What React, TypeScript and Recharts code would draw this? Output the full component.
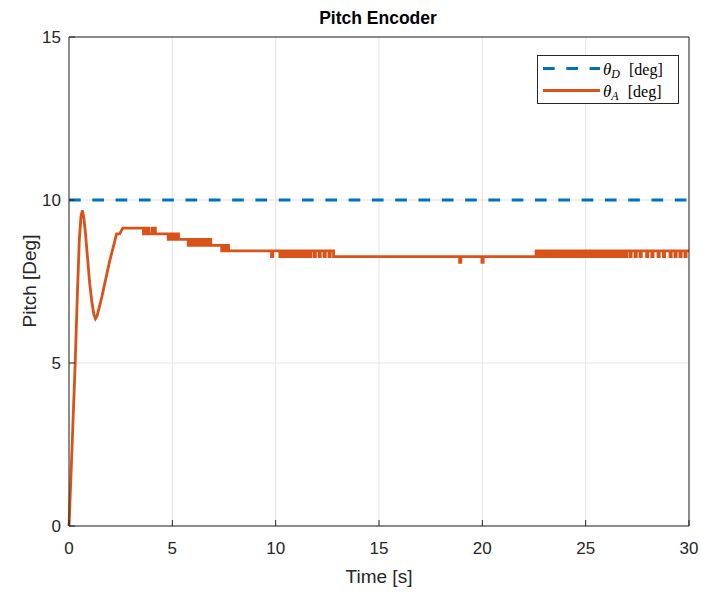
import React from "react"
import { LineChart, Line, XAxis, YAxis, CartesianGrid, Legend, Customized } from "recharts"

const timeTicks = [0, 5, 10, 15, 20, 25, 30]
const pitchTicks = [0, 5, 10, 15]
const desiredPitch = 10
const timeEnd = 30

// rise, overshoot and undershoot before the encoder reading settles
const riseTime = [0, 0.1, 0.2, 0.3, 0.4, 0.5, 0.58, 0.65, 0.72, 0.8, 0.9, 1.0, 1.1, 1.2, 1.28, 1.36, 1.46, 1.58, 1.7, 1.82, 1.95, 2.08, 2.2, 2.3, 2.45, 2.6]
const risePitch = [0, 1.6, 3.3, 5.0, 7.0, 8.8, 9.5, 9.68, 9.45, 8.95, 8.2, 7.45, 6.9, 6.5, 6.36, 6.45, 6.7, 7.0, 7.35, 7.7, 8.08, 8.4, 8.7, 8.96, 8.96, 9.14]

// [time, pitch] where the encoder count changes
const stepsEarly: [number, number][] = [
  [3.6, 8.96], [3.7, 9.14], [3.76, 8.96], [3.8, 9.14], [3.86, 8.96], [4.02, 9.14], [4.06, 8.96], [4.14, 9.14], [4.18, 8.96],
  [4.8, 8.79], [4.86, 8.96], [4.94, 8.79], [4.98, 8.96], [5.06, 8.79], [5.1, 8.96], [5.18, 8.79], [5.22, 8.96], [5.3, 8.79],
  [5.77, 8.61], [5.82, 8.79], [5.92, 8.61], [5.96, 8.79], [6.06, 8.61], [6.1, 8.79], [6.2, 8.61], [6.24, 8.79],
  [6.34, 8.61], [6.38, 8.79], [6.48, 8.61], [6.52, 8.79], [6.6, 8.61], [6.64, 8.79], [6.74, 8.61], [6.78, 8.79], [6.86, 8.61],
  [7.39, 8.44], [7.46, 8.61], [7.54, 8.44], [7.6, 8.61], [7.72, 8.44],
]

const stepsMid: [number, number][] = [
  [9.8, 8.26], [9.86, 8.44], [10.2, 8.26], [10.26, 8.44], [10.36, 8.26], [10.42, 8.44],
  [10.52, 8.26], [10.6, 8.44], [10.66, 8.26], [10.74, 8.44], [10.8, 8.26], [10.88, 8.44],
  [10.94, 8.26], [11.02, 8.44], [11.08, 8.26], [11.16, 8.44], [11.22, 8.26], [11.3, 8.44],
  [11.36, 8.26], [11.44, 8.44], [11.5, 8.26], [11.56, 8.44], [11.64, 8.26], [11.7, 8.44],
  [11.86, 8.26], [11.92, 8.44], [12.1, 8.26], [12.16, 8.44], [12.34, 8.26], [12.4, 8.44],
  [12.58, 8.26], [12.64, 8.44], [12.8, 8.26],
]

const stepsDips: [number, number][] = [
  [18.9, 8.09], [18.96, 8.26], [19.98, 8.09], [20.04, 8.26],
]

const stepsLate: [number, number][] = [
  [22.6, 8.44],
  [22.72, 8.26], [22.8, 8.44], [22.86, 8.26], [22.95, 8.44], [23.0, 8.26], [23.1, 8.44],
  [23.16, 8.26], [23.25, 8.44], [23.3, 8.26], [23.4, 8.44], [23.46, 8.26], [23.55, 8.44],
  [23.6, 8.26], [23.7, 8.44], [23.76, 8.26], [23.85, 8.44], [23.9, 8.26], [24.0, 8.44],
  [24.06, 8.26], [24.15, 8.44], [24.2, 8.26], [24.3, 8.44], [24.36, 8.26], [24.45, 8.44],
  [24.5, 8.26], [24.6, 8.44], [24.66, 8.26], [24.75, 8.44], [24.8, 8.26], [24.9, 8.44],
  [24.96, 8.26], [25.05, 8.44], [25.1, 8.26], [25.2, 8.44], [25.26, 8.26], [25.35, 8.44],
  [25.4, 8.26], [25.5, 8.44], [25.56, 8.26], [25.65, 8.44], [25.7, 8.26], [25.8, 8.44],
  [25.86, 8.26], [25.95, 8.44], [26.0, 8.26], [26.1, 8.44], [26.16, 8.26], [26.25, 8.44],
  [26.3, 8.26], [26.4, 8.44], [26.46, 8.26], [26.55, 8.44], [26.6, 8.26], [26.7, 8.44],
  [26.76, 8.26], [26.85, 8.44], [26.9, 8.26], [26.98, 8.44],
  [27.14, 8.26], [27.2, 8.44], [27.39, 8.26], [27.45, 8.44], [27.63, 8.26], [27.69, 8.44],
  [27.95, 8.26], [28.01, 8.44], [28.2, 8.26], [28.26, 8.44], [28.5, 8.26], [28.56, 8.44],
  [28.76, 8.26], [28.82, 8.44], [29.08, 8.26], [29.14, 8.44], [29.32, 8.26], [29.38, 8.44],
  [29.56, 8.26], [29.62, 8.44], [29.8, 8.26], [29.86, 8.44],
]

const actualData: { t: number; v: number }[] = riseTime.map((t, i) => ({ t, v: risePitch[i] }))
let level = risePitch[risePitch.length - 1]
for (const [t, v] of [...stepsEarly, ...stepsMid, ...stepsDips, ...stepsLate]) {
  // vertical jump: old count then new count at the same instant
  actualData.push({ t, v: level }, { t, v })
  level = v
}
actualData.push({ t: timeEnd, v: level })

const desiredData = [
  { t: 0, v: desiredPitch },
  { t: timeEnd, v: desiredPitch },
]

const BLUE = "#0072BD"
const ORANGE = "#D95319"
const INK = "#262626"
const SANS = "'Liberation Sans', Arial, Helvetica, sans-serif"
const SERIF = "'Liberation Serif', 'Times New Roman', serif"
const DASH = "11.7 11.6"

function BottomTick({ x, y, payload }: any) {
  return (
    <g>
      <line x1={x} y1={y} x2={x} y2={y - 6} stroke={INK} />
      <text x={x} y={y + 28} textAnchor="middle" fontSize={17} fontFamily={SANS} fill={INK}>
        {payload.value}
      </text>
    </g>
  )
}

function LeftTick({ x, y, payload }: any) {
  return (
    <g>
      <line x1={x} y1={y} x2={x + 6} y2={y} stroke={INK} />
      <text x={x - 8} y={y + 6} textAnchor="end" fontSize={17} fontFamily={SANS} fill={INK}>
        {payload.value}
      </text>
    </g>
  )
}

function TopTick({ x, y }: any) {
  return <line x1={x} y1={y} x2={x} y2={y + 6} stroke={INK} />
}

function RightTick({ x, y }: any) {
  return <line x1={x} y1={y} x2={x - 6} y2={y} stroke={INK} />
}

function LegendBox() {
  const rows = [
    { sub: "D", color: BLUE, dash: DASH },
    { sub: "A", color: ORANGE, dash: undefined },
  ]
  return (
    <svg width={142} height={49} style={{ display: "block" }}>
      <rect x={0.5} y={0.5} width={141} height={48} fill="#fff" stroke={INK} />
      {rows.map((r, i) => (
        <g key={r.sub}>
          <line x1={6} x2={63} y1={13.5 + i * 22} y2={13.5 + i * 22} stroke={r.color} strokeWidth={2.8} strokeDasharray={r.dash} />
          <text x={66} y={20 + i * 22} fontFamily={SERIF} fontSize={17} fill="#000">
            <tspan fontStyle="italic">θ</tspan>
            <tspan fontStyle="italic" fontSize={12} dy={3}>{r.sub}</tspan>
            <tspan dy={-3} dx={9} fontSize={16}>[deg]</tspan>
          </text>
        </g>
      ))}
    </svg>
  )
}

function Captions() {
  return (
    <g fontFamily={SANS} fill={INK}>
      <text x={378} y={24} textAnchor="middle" fontSize={17.5} fontWeight="bold" fill="#000">
        Pitch Encoder
      </text>
      <text x={379} y={583} textAnchor="middle" fontSize={19}>
        Time [s]
      </text>
      <text x={36} y={281} textAnchor="middle" fontSize={19} transform="rotate(-90 36 281)">
        Pitch [Deg]
      </text>
    </g>
  )
}

export default function App() {
  return (
    <div style={{ position: "absolute", left: 0, top: 0, width: 701, height: 593, background: "#fff" }}>
      <LineChart width={701} height={593} margin={{ top: 27, right: 2, bottom: 27, left: 9 }}>
        <CartesianGrid stroke="#e3e3e3" />
        <XAxis
          dataKey="t"
          type="number"
          domain={[0, timeEnd]}
          ticks={timeTicks}
          interval={0}
          height={40}
          tickSize={0}
          tickMargin={0}
          tickLine={false}
          axisLine={{ stroke: INK }}
          tick={<BottomTick />}
        />
        <XAxis
          xAxisId="top"
          orientation="top"
          dataKey="t"
          type="number"
          domain={[0, timeEnd]}
          ticks={timeTicks}
          interval={0}
          height={10}
          tickSize={0}
          tickMargin={0}
          tickLine={false}
          axisLine={{ stroke: INK }}
          tick={<TopTick />}
        />
        <YAxis
          type="number"
          domain={[0, 15]}
          ticks={pitchTicks}
          interval={0}
          width={60}
          tickSize={0}
          tickMargin={0}
          tickLine={false}
          axisLine={{ stroke: INK }}
          tick={<LeftTick />}
        />
        <YAxis
          yAxisId="right"
          orientation="right"
          type="number"
          domain={[0, 15]}
          ticks={pitchTicks}
          interval={0}
          width={10}
          tickSize={0}
          tickMargin={0}
          tickLine={false}
          axisLine={{ stroke: INK }}
          tick={<RightTick />}
        />
        <Line
          data={desiredData}
          dataKey="v"
          type="linear"
          stroke={BLUE}
          strokeWidth={2.8}
          strokeDasharray={DASH}
          dot={false}
          activeDot={false}
          isAnimationActive={false}
        />
        <Line
          data={actualData}
          dataKey="v"
          type="linear"
          stroke={ORANGE}
          strokeWidth={2.8}
          strokeLinejoin="miter"
          dot={false}
          activeDot={false}
          isAnimationActive={false}
        />
        <Legend
          layout="vertical"
          align="center"
          verticalAlign="middle"
          content={<LegendBox />}
          wrapperStyle={{ left: 537, top: 55, width: 142, height: 49 }}
        />
        <Customized component={<Captions />} />
      </LineChart>
    </div>
  )
}
